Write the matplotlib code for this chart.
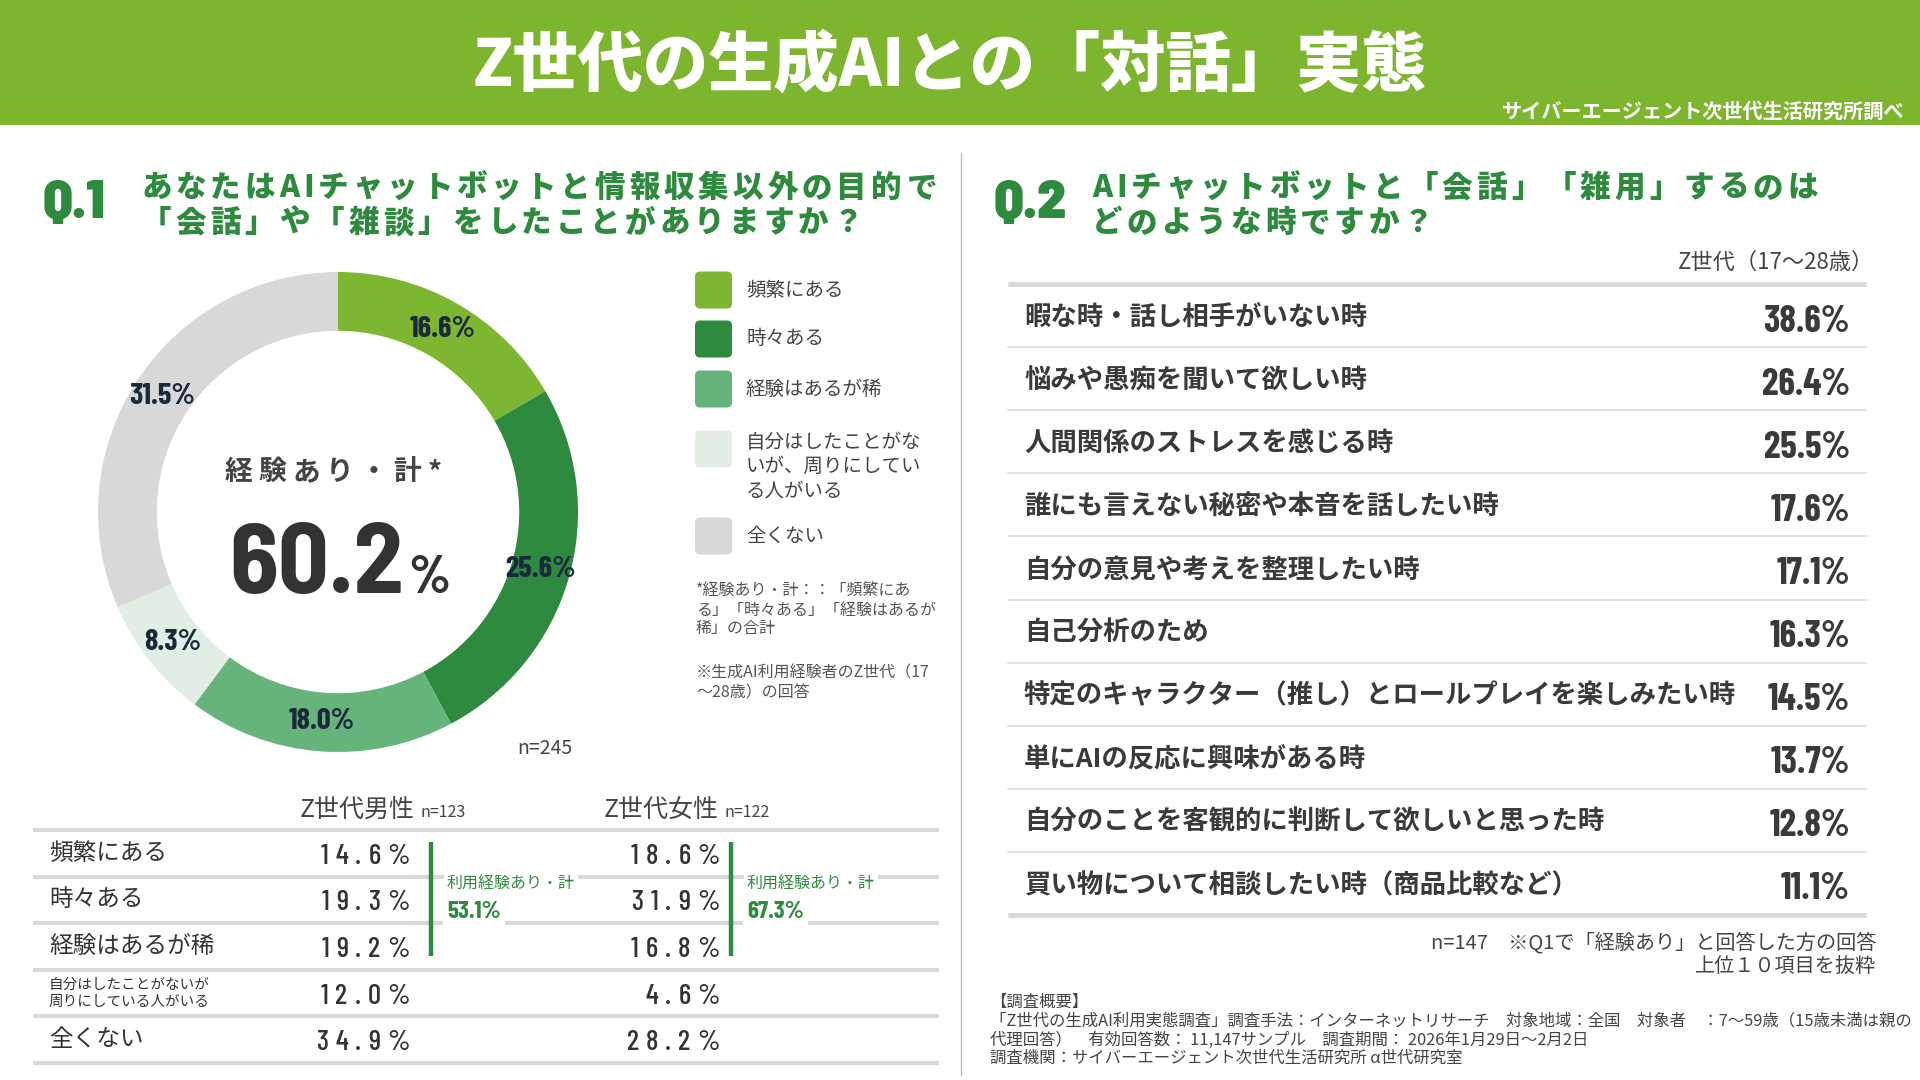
import unicodedata
import matplotlib
matplotlib.use("Agg")
from matplotlib import pyplot as plt
from matplotlib.patches import Rectangle, FancyBboxPatch

JP = ["Noto Sans CJK JP", "DejaVu Sans"]
HEAVY = ["M PLUS Rounded 1c", "Noto Sans CJK JP", "DejaVu Sans"]
NUM = ["Barlow Condensed", "DejaVu Sans"]
BIG = ["Barlow Semi Condensed", "DejaVu Sans"]
plt.rcParams["font.family"] = JP

# ---- data ----
title = "Z世代の生成AIとの「対話」実態"
source = "サイバーエージェント次世代生活研究所調べ"

q1_question = ["あなたはAIチャットボットと情報収集以外の目的で",
               "「会話」や「雑談」をしたことがありますか？"]
q1_labels = ["頻繁にある", "時々ある", "経験はあるが稀",
             "自分はしたことがな\nいが、周りにしてい\nる人がいる", "全くない"]
q1_values = [16.6, 25.6, 18.0, 8.3, 31.5]
q1_total = 60.2
q1_n = 245

table_labels = ["頻繁にある", "時々ある", "経験はあるが稀",
                "自分はしたことがないが\n周りにしている人がいる", "全くない"]
male_values = [14.6, 19.3, 19.2, 12.0, 34.9]
female_values = [18.6, 31.9, 16.8, 4.6, 28.2]
male_total = 53.1
female_total = 67.3
male_n = 123
female_n = 122

q2_question = ["AIチャットボットと「会話」「雑用」するのは",
               "どのような時ですか？"]
q2_labels = ["暇な時・話し相手がいない時",
             "悩みや愚痴を聞いて欲しい時",
             "人間関係のストレスを感じる時",
             "誰にも言えない秘密や本音を話したい時",
             "自分の意見や考えを整理したい時",
             "自己分析のため",
             "特定のキャラクター（推し）とロールプレイを楽しみたい時",
             "単にAIの反応に興味がある時",
             "自分のことを客観的に判断して欲しいと思った時",
             "買い物について相談したい時（商品比較など）"]
q2_values = [38.6, 26.4, 25.5, 17.6, 17.1, 16.3, 14.5, 13.7, 12.8, 11.1]
q2_n = 147

survey = ["【調査概要】",
          "「Z世代の生成AI利用実態調査」調査手法：インターネットリサーチ　対象地域：全国　対象者　：7〜59歳（15歳未満は親の",
          "代理回答）　有効回答数： 11,147サンプル　調査期間： 2026年1月29日〜2月2日",
          "調査機関：サイバーエージェント次世代生活研究所 α世代研究室"]

colors = ["#7DB631", "#2D8A3E", "#66B47C", "#E2EDE4", "#D8D8D8"]
GREEN = "#2E8B3E"
HEAD = "#7DB52F"
DARK = "#3A3A3A"
GREY_LINE = "#D9D9D9"

fig = plt.figure(figsize=(19.2, 10.8), dpi=100, facecolor="white")
ax = fig.add_axes([0, 0, 1, 1])
ax.set_xlim(0, 1920)
ax.set_ylim(1080, 0)
ax.axis("off")
renderer = fig.canvas.get_renderer()


def spaced(x, y, s, size, color, track, family=JP, weight="normal", ha="left"):
    # text with letter spacing, y is the visual centre line
    em = size * 100 / 72
    base = y + 0.36 * em
    items = []
    for ch in s:
        t = ax.text(0, base, ch, fontsize=size, color=color, family=family,
                    weight=weight, ha="center", va="baseline")
        if unicodedata.east_asian_width(ch) in "FW":
            w = em
        else:
            w = t.get_window_extent(renderer).width
        items.append((t, w))
    total = sum(w for _, w in items) + track * (len(items) - 1)
    x0 = {"left": x, "center": x - total / 2, "right": x - total}[ha]
    for t, w in items:
        t.set_x(x0 + w / 2)
        x0 += w + track


# ---- header ----
ax.add_patch(Rectangle((0, 0), 1920, 125, color=HEAD, lw=0))
ax.text(950, 66, title, fontsize=47, color="white", family=HEAVY, weight="heavy",
        ha="center", va="center")
ax.text(1904, 111, source, fontsize=14.5, color="white", weight="bold", ha="right", va="center")
ax.plot([961, 961], [153, 1075], color="#BBBBBB", lw=1)

# ---- Q1 ----
ax.text(43, 204, "Q.1", fontsize=40, color=GREEN, family=BIG, weight="black", va="center")
spaced(141, 186, q1_question[0], 22, GREEN, 4, family=HEAVY, weight="heavy")
spaced(141, 221, q1_question[1], 22, GREEN, 4, family=HEAVY, weight="heavy")

pax = fig.add_axes([98 / 1920, 1 - 752 / 1080, 480 / 1920, 480 / 1080])
pax.pie(q1_values, colors=colors, startangle=90, counterclock=False,
        wedgeprops=dict(width=0.245, edgecolor="none"),
        autopct=lambda p: f"{p:.1f}%", pctdistance=0.877,
        textprops=dict(fontsize=22, color="#1B2A3A", family=NUM, weight="bold"))
pax.set_xlim(-1, 1)
pax.set_ylim(-1, 1)
pax.set_aspect("equal")
pax.axis("off")

spaced(333, 470, "経験あり・計*", 20, "#444444", 6, weight="bold", ha="center")
ax.text(404, 593, f"{q1_total:.1f}", fontsize=72, color="#333333", family=BIG,
        weight="bold", ha="right", va="baseline")
ax.text(408, 593, "%", fontsize=38, color="#333333", family=BIG,
        weight="bold", ha="left", va="baseline")
ax.text(545, 749, f"n={q1_n}", fontsize=14, color="#444444", ha="center", va="center")

# legend
leg_y = [290, 339, 389, 449, 536]
for lab, col, yc in zip(q1_labels, colors, leg_y):
    ax.add_patch(FancyBboxPatch((695, yc - 18.5), 37, 37, boxstyle="round,pad=0,rounding_size=5",
                                fc=col, ec="none"))
    lines = lab.split("\n")
    y0 = yc if len(lines) == 1 else yc - 7
    for k, ln in enumerate(lines):
        ax.text(746, y0 + k * 24.5, ln, fontsize=14, color="#444444", va="center")

notes = [(590, "*経験あり・計：：「頻繁にあ"), (610, "る」「時々ある」「経験はあるが"),
         (629, "稀」の合計"), (673, "※生成AI利用経験者のZ世代（17"), (693, "〜28歳）の回答")]
for yy, s in notes:
    ax.text(696, yy, s, fontsize=11.5, color="#555555", va="center")

# ---- gender table ----
ax.text(300, 817, "Z世代男性", fontsize=18, color="#444444", va="baseline")
ax.text(420, 817, f"n={male_n}", fontsize=11.5, color="#444444", va="baseline")
ax.text(604, 817, "Z世代女性", fontsize=18, color="#444444", va="baseline")
ax.text(725, 817, f"n={female_n}", fontsize=11.5, color="#444444", va="baseline")

row_top = 830
row_h = 46.6
for i in range(len(table_labels) + 1):
    yy = row_top + i * row_h
    ax.plot([33, 939], [yy, yy], color=GREY_LINE, lw=3, solid_capstyle="butt", zorder=1)
for i, (lab, mv, fv) in enumerate(zip(table_labels, male_values, female_values)):
    yc = row_top + (i + 0.5) * row_h
    if "\n" in lab:
        ax.text(49, yc, lab, fontsize=10.5, color="#333333", va="center", linespacing=1.3)
    else:
        ax.text(49, yc, lab, fontsize=17, color="#333333", va="center")
    spaced(410, yc, f"{mv:.1f}%", 21, "#333333", 7, family=NUM, weight="medium", ha="right")
    spaced(720, yc, f"{fv:.1f}%", 21, "#333333", 7, family=NUM, weight="medium", ha="right")

for bx, tot in [(431, male_total), (731, female_total)]:
    ax.plot([bx, bx], [842, 956], color=GREEN, lw=3.2, solid_capstyle="butt", zorder=3)
    ax.text(bx + 16, 884, "利用経験あり・計", fontsize=11.5, color=GREEN, va="center", zorder=3,
            bbox=dict(fc="white", ec="none", pad=2))
    ax.text(bx + 16, 912, f"{tot:.1f}%", fontsize=18, color=GREEN, family=NUM, weight="bold",
            va="center", zorder=3, bbox=dict(fc="white", ec="none", pad=3))

# ---- Q2 ----
ax.text(994, 204, "Q.2", fontsize=40, color=GREEN, family=BIG, weight="black", va="center")
spaced(1092, 186, q2_question[0], 22, GREEN, 4, family=HEAVY, weight="heavy")
spaced(1092, 221, q2_question[1], 22, GREEN, 4, family=HEAVY, weight="heavy")
ax.text(1874, 262, "Z世代（17〜28歳）", fontsize=16, color="#444444", ha="right", va="center")

q2_top = 284
q2_h = 63.1
ax.plot([1008, 1866], [q2_top, q2_top], color=GREY_LINE, lw=3.5, solid_capstyle="butt")
ax.plot([1008, 1866], [q2_top + 10 * q2_h] * 2, color=GREY_LINE, lw=3.5, solid_capstyle="butt")
for i in range(1, len(q2_labels)):
    yy = q2_top + i * q2_h
    ax.plot([1008, 1866], [yy, yy], color="#DDDDDD", lw=1.2)
for i, (lab, v) in enumerate(zip(q2_labels, q2_values)):
    yc = q2_top + (i + 0.5) * q2_h + 2
    ax.text(1024, yc, lab, fontsize=19, color=DARK, weight="bold", va="center")
    ax.text(1850, yc + 4, f"{v:.1f}%", fontsize=27, color=DARK, family=NUM, weight="bold",
            ha="right", va="center")

ax.text(1876, 943, f"n={q2_n}　※Q1で「経験あり」と回答した方の回答", fontsize=14.5,
        color="#444444", ha="right", va="center")
ax.text(1876, 967, "上位１０項目を抜粋", fontsize=14.5, color="#444444", ha="right", va="center")

for yy, s in zip([1002, 1021, 1040, 1058], survey):
    ax.text(990, yy, s, fontsize=11.8, color="#444444", va="center")

fig.savefig("out.png", dpi=100, facecolor="white")
